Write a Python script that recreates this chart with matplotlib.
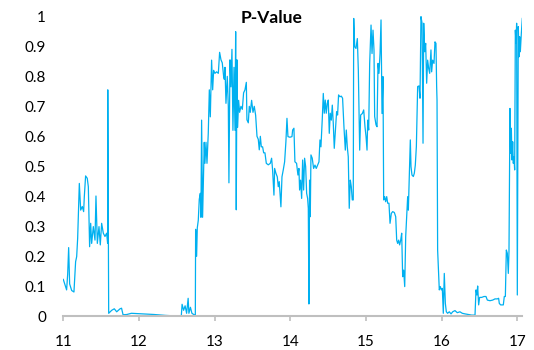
import matplotlib
matplotlib.use("Agg")
import matplotlib.pyplot as plt

title = "P-Value"
x_ticks = [11, 12, 13, 14, 15, 16, 17]
y_ticks = [0, 0.1, 0.2, 0.3, 0.4, 0.5, 0.6, 0.7, 0.8, 0.9, 1]
y_tick_labels = ["0", "0.1", "0.2", "0.3", "0.4", "0.5", "0.6", "0.7", "0.8", "0.9", "1"]

# segment 1: 11.0 - 11.6
x_seg1 = [11.000, 11.044, 11.058, 11.071, 11.084, 11.111, 11.141, 11.163, 11.177, 11.190,
          11.212, 11.230, 11.251, 11.269, 11.278, 11.295, 11.317, 11.331, 11.348, 11.362,
          11.375, 11.397, 11.419, 11.432, 11.450, 11.472, 11.489, 11.507, 11.529, 11.551,
          11.573, 11.586, 11.588, 11.600]
p_seg1 = [0.123, 0.088, 0.140, 0.229, 0.108, 0.086, 0.081, 0.182, 0.199, 0.260,
          0.443, 0.354, 0.366, 0.349, 0.399, 0.468, 0.460, 0.432, 0.232, 0.310,
          0.243, 0.299, 0.254, 0.401, 0.243, 0.299, 0.238, 0.310, 0.277, 0.266,
          0.277, 0.243, 0.755, 0.010]

# segment 2: low period 11.6 - 12.75
x_seg2 = [11.640, 11.674, 11.706, 11.750, 11.770, 11.790, 11.840, 11.900, 12.040, 12.200,
          12.350, 12.500, 12.560, 12.570, 12.590, 12.610, 12.630, 12.650, 12.660, 12.680,
          12.700, 12.730, 12.745]
p_seg2 = [0.020, 0.025, 0.015, 0.025, 0.027, 0.005, 0.006, 0.010, 0.008, 0.006,
          0.003, 0.001, 0.002, 0.040, 0.020, 0.035, 0.010, 0.060, 0.010, 0.030,
          0.010, 0.005, 0.005]

# segment 3: 12.75 - 13.74
x_seg3 = [12.749, 12.762, 12.771, 12.784, 12.797, 12.811, 12.819, 12.828, 12.841, 12.855,
          12.863, 12.872, 12.886, 12.899, 12.916, 12.930, 12.943, 12.960, 12.974, 12.987,
          13.004, 13.026, 13.049, 13.066, 13.084, 13.101, 13.119, 13.128, 13.137, 13.150,
          13.167, 13.181, 13.189, 13.203, 13.216, 13.229, 13.242, 13.256, 13.269, 13.278,
          13.286, 13.295, 13.304, 13.317, 13.330, 13.348, 13.366, 13.383, 13.401, 13.419,
          13.427, 13.445, 13.458, 13.471, 13.489, 13.507, 13.524, 13.542, 13.560, 13.577,
          13.590, 13.604, 13.617, 13.634, 13.648, 13.665, 13.683, 13.709, 13.736]
p_seg3 = [0.290, 0.200, 0.295, 0.320, 0.390, 0.410, 0.330, 0.654, 0.330, 0.500,
          0.580, 0.510, 0.580, 0.510, 0.610, 0.755, 0.665, 0.854, 0.755, 0.820,
          0.810, 0.815, 0.810, 0.880, 0.855, 0.845, 0.800, 0.790, 0.830, 0.710,
          0.800, 0.700, 0.445, 0.855, 0.765, 0.890, 0.620, 0.830, 0.620, 0.949,
          0.355, 0.855, 0.630, 0.720, 0.680, 0.700, 0.690, 0.745, 0.755, 0.780,
          0.655, 0.645, 0.700, 0.680, 0.720, 0.680, 0.700, 0.670, 0.600, 0.590,
          0.555, 0.600, 0.565, 0.565, 0.545, 0.545, 0.510, 0.505, 0.510]

# segment 4: 13.75 - 14.83
x_seg4 = [13.753, 13.766, 13.784, 13.793, 13.810, 13.828, 13.841, 13.854, 13.876, 13.890,
          13.907, 13.925, 13.942, 13.956, 13.969, 13.995, 14.022, 14.031, 14.048, 14.061,
          14.083, 14.101, 14.114, 14.123, 14.136, 14.150, 14.163, 14.176, 14.189, 14.203,
          14.216, 14.229, 14.238, 14.246, 14.255, 14.264, 14.273, 14.290, 14.308, 14.326,
          14.343, 14.361, 14.379, 14.392, 14.405, 14.423, 14.436, 14.449, 14.462, 14.475,
          14.489, 14.502, 14.515, 14.528, 14.542, 14.555, 14.568, 14.581, 14.594, 14.612,
          14.625, 14.638, 14.656, 14.674, 14.691, 14.709, 14.727, 14.740, 14.753, 14.766,
          14.779, 14.793, 14.806, 14.819, 14.832]
p_seg4 = [0.527, 0.488, 0.404, 0.493, 0.477, 0.465, 0.432, 0.449, 0.365, 0.465,
          0.488, 0.515, 0.582, 0.660, 0.599, 0.597, 0.599, 0.621, 0.627, 0.515,
          0.510, 0.471, 0.493, 0.421, 0.454, 0.393, 0.521, 0.421, 0.527, 0.499,
          0.410, 0.393, 0.360, 0.041, 0.454, 0.332, 0.538, 0.527, 0.493, 0.504,
          0.493, 0.504, 0.515, 0.588, 0.565, 0.660, 0.743, 0.677, 0.721, 0.677,
          0.710, 0.721, 0.610, 0.677, 0.654, 0.704, 0.643, 0.560, 0.610, 0.682,
          0.671, 0.738, 0.732, 0.734, 0.727, 0.632, 0.554, 0.621, 0.565, 0.532,
          0.360, 0.454, 0.432, 0.388, 0.388]

# segment 5: 14.84 - 15.84
x_seg5 = [14.838, 14.851, 14.868, 14.886, 14.899, 14.917, 14.930, 14.952, 14.970, 14.987,
          15.001, 15.014, 15.023, 15.036, 15.049, 15.067, 15.080, 15.093, 15.106, 15.115,
          15.133, 15.146, 15.159, 15.172, 15.186, 15.199, 15.212, 15.225, 15.234, 15.247,
          15.260, 15.274, 15.287, 15.304, 15.318, 15.335, 15.353, 15.375, 15.393, 15.406,
          15.419, 15.432, 15.445, 15.459, 15.472, 15.485, 15.498, 15.512, 15.525, 15.538,
          15.551, 15.560, 15.573, 15.586, 15.595, 15.608, 15.626, 15.639, 15.652, 15.666,
          15.683, 15.701, 15.714, 15.727, 15.741, 15.754, 15.763, 15.776, 15.789, 15.802,
          15.815, 15.829, 15.842]
p_seg5 = [0.993, 0.899, 0.893, 0.926, 0.821, 0.554, 0.671, 0.676, 0.688, 0.632,
          0.599, 0.554, 0.654, 0.621, 0.843, 0.971, 0.876, 0.954, 0.888, 0.666,
          0.638, 0.632, 0.843, 0.810, 0.876, 0.988, 0.676, 0.799, 0.388, 0.399,
          0.382, 0.399, 0.377, 0.377, 0.310, 0.343, 0.349, 0.346, 0.332, 0.254,
          0.243, 0.254, 0.238, 0.254, 0.277, 0.132, 0.154, 0.099, 0.266, 0.332,
          0.399, 0.354, 0.477, 0.588, 0.499, 0.471, 0.466, 0.477, 0.504, 0.566,
          0.766, 0.768, 0.727, 0.999, 0.977, 0.577, 0.977, 0.882, 0.910, 0.777,
          0.854, 0.826, 0.810]

# segment 6: 15.86 - 17.07
x_seg6 = [15.859, 15.868, 15.881, 15.899, 15.912, 15.925, 15.934, 15.939, 15.947, 15.956,
          15.969, 15.983, 15.996, 16.009, 16.022, 16.035, 16.049, 16.062, 16.079, 16.101,
          16.124, 16.146, 16.176, 16.207, 16.242, 16.273, 16.309, 16.353, 16.397, 16.441,
          16.454, 16.467, 16.476, 16.489, 16.502, 16.529, 16.560, 16.586, 16.604, 16.639,
          16.674, 16.705, 16.736, 16.753, 16.762, 16.780, 16.798, 16.815, 16.828, 16.842,
          16.855, 16.868, 16.881, 16.890, 16.903, 16.912, 16.921, 16.930, 16.939, 16.947,
          16.956, 16.965, 16.974, 16.983, 16.991, 17.000, 17.013, 17.022, 17.031, 17.040,
          17.053, 17.066]
p_seg6 = [0.888, 0.815, 0.854, 0.843, 0.915, 0.910, 0.766, 0.721, 0.221, 0.166,
          0.088, 0.099, 0.088, 0.093, 0.010, 0.143, 0.043, 0.015, 0.010, 0.015,
          0.008, 0.015, 0.019, 0.012, 0.015, 0.010, 0.008, 0.006, 0.004, 0.004,
          0.088, 0.071, 0.101, 0.038, 0.063, 0.063, 0.066, 0.066, 0.054, 0.052,
          0.054, 0.058, 0.058, 0.060, 0.043, 0.038, 0.038, 0.038, 0.066, 0.066,
          0.221, 0.210, 0.143, 0.216, 0.693, 0.543, 0.627, 0.521, 0.582, 0.510,
          0.532, 0.488, 0.954, 0.910, 0.977, 0.071, 0.966, 0.865, 0.932, 0.882,
          0.943, 0.993]

dates = x_seg1 + x_seg2 + x_seg3 + x_seg4 + x_seg5 + x_seg6
p_values = p_seg1 + p_seg2 + p_seg3 + p_seg4 + p_seg5 + p_seg6

plt.rcParams['font.family'] = ['Lato', 'DejaVu Sans']

fig = plt.figure(figsize=(5.34, 3.5), dpi=100)
ax = fig.add_axes([0.1185, 0.0963, 0.8596, 0.857])

ax.plot(dates, p_values, color='#00B0F0', linewidth=0.9)

ax.set_xlim(11, 17.066)
ax.set_ylim(0, 1)
ax.set_xticks(x_ticks)
ax.set_xticklabels([str(t) for t in x_ticks])
ax.set_yticks(y_ticks)
ax.set_yticklabels(y_tick_labels)

for s in ['top', 'right', 'left']:
    ax.spines[s].set_visible(False)
ax.spines['bottom'].set_color('#BFBFBF')
ax.spines['bottom'].set_linewidth(1.5)
ax.tick_params(axis='x', colors='#BFBFBF', length=3.8, width=1.2, pad=10,
               labelcolor='#000000', labelsize=11)
ax.tick_params(axis='y', length=0, pad=12.5, labelcolor='#000000', labelsize=11)

fig.text(0.509, 1 - 23.3 / 350, title, ha='center', va='baseline', fontsize=12.5,
         fontweight='bold')

fig.savefig('out.png', dpi=100)
